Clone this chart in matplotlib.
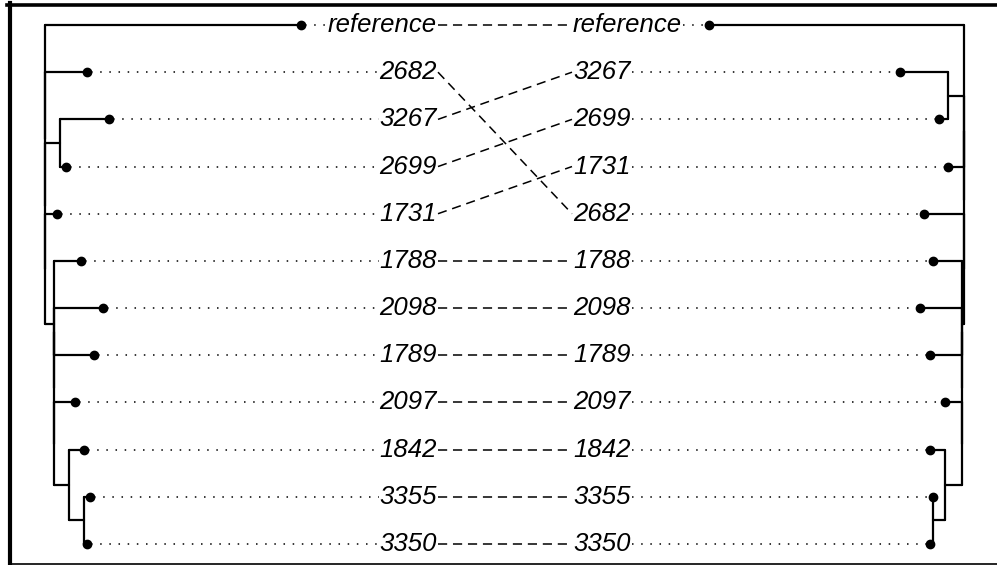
import matplotlib
matplotlib.use("Agg")
import matplotlib.pyplot as plt
from matplotlib.lines import Line2D

# ---------------- data ----------------
# Left and right trees (Newick, branch lengths in substitution units)
left_tree = ("(reference:0.256,(2682:0.042,((3267:0.049,2699:0.006):0.015,"
             "(1731:0.0115,(1788:0.0265,((2098:0.0487,1789:0.0397):0,"
             "(2097:0.0207,(1842:0.0147,(3355:0.0054,3350:0.0027):0.0153):0.015):0):0)"
             ":0.009):0):0):0);")
right_tree = ("(reference:0.255,(((3267:0.0484,2699:0.0094):0.0156,1731:0.0156):0,"
              "(2682:0.0403,(1788:0.0287,((2098:0.042,1789:0.032):0,"
              "(2097:0.0167,(1842:0.0153,(3355:0.0005,3350:0.0033):0.012):0.0167):0):0)"
              ":0.0023):0):0);")


def parse_newick(s):
    s = s.strip().rstrip(";")
    pos = 0

    def node():
        nonlocal pos
        children = []
        if s[pos] == "(":
            pos += 1
            while True:
                children.append(node())
                if s[pos] == ",":
                    pos += 1
                    continue
                if s[pos] == ")":
                    pos += 1
                    break
        start = pos
        while pos < len(s) and s[pos] not in ",():":
            pos += 1
        name = s[start:pos]
        bl = 0.0
        if pos < len(s) and s[pos] == ":":
            pos += 1
            start = pos
            while pos < len(s) and s[pos] not in ",()":
                pos += 1
            bl = float(s[start:pos])
        return {"name": name, "bl": bl, "children": children}

    return node()


def layout(tree):
    leaves = []
    segs = []  # (x0, y0, x1, y1)

    def walk(n, depth):
        d = depth + n["bl"]
        n["depth"] = d
        if not n["children"]:
            n["y"] = len(leaves)
            leaves.append(n)
            return
        for c in n["children"]:
            walk(c, d)
        n["y"] = (n["children"][0]["y"] + n["children"][-1]["y"]) / 2.0

    walk(tree, 0.0)

    def edges(n):
        if n["children"]:
            segs.append((n["depth"], n["children"][0]["y"], n["depth"], n["children"][-1]["y"]))
            for c in n["children"]:
                segs.append((n["depth"], c["y"], c["depth"], c["y"]))
                edges(c)

    edges(tree)
    return leaves, segs


L = parse_newick(left_tree)
R = parse_newick(right_tree)
left_leaves, left_segs = layout(L)
right_leaves, right_segs = layout(R)

# ---------------- drawing ----------------
W, H, DPI = 997, 565, 100
fig = plt.figure(figsize=(W / DPI, H / DPI), dpi=DPI)
ax = fig.add_axes([0, 0, 1, 1])
ax.set_xlim(0, W)
row0, rowstep = 25, 47.18
ax.set_ylim((H - row0) / rowstep, -row0 / rowstep)
ax.axis("off")

scale = 1000.0
left_root, right_root = 45, 964
label_left_end, label_right_start = 437, 573
lw_tree = 1.6

def lx(d):
    return left_root + d * scale

def rx(d):
    return right_root - d * scale

for x0, y0, x1, y1 in left_segs:
    ax.plot([lx(x0), lx(x1)], [y0, y1], color="black", lw=lw_tree,
            solid_capstyle="round", zorder=3)
for x0, y0, x1, y1 in right_segs:
    ax.plot([rx(x0), rx(x1)], [y0, y1], color="black", lw=lw_tree,
            solid_capstyle="round", zorder=3)

font = dict(family=["Liberation Sans", "DejaVu Sans"], style="italic", size=18.5)
left_texts = {}
right_texts = {}
for lf in left_leaves:
    ax.plot(lx(lf["depth"]), lf["y"], "o", color="black", ms=6, zorder=4)
    left_texts[lf["name"]] = ax.text(label_left_end, lf["y"], lf["name"], ha="right",
                                     va="center", **font)
for lf in right_leaves:
    ax.plot(rx(lf["depth"]), lf["y"], "o", color="black", ms=6, zorder=4)
    right_texts[lf["name"]] = ax.text(label_right_start, lf["y"], lf["name"], ha="left",
                                      va="center", **font)

fig.canvas.draw()
inv = ax.transData.inverted()
renderer = fig.canvas.get_renderer()

def ext(t):
    bb = t.get_window_extent(renderer)
    x0 = inv.transform((bb.x0, bb.y0))[0]
    x1 = inv.transform((bb.x1, bb.y0))[0]
    return x0, x1

dotted = (0, (1, 5))
dashed = (0, (6, 3.8))
for lf in left_leaves:
    x0, x1 = ext(left_texts[lf["name"]])
    ax.plot([lx(lf["depth"]) + 4, x0 - 1], [lf["y"], lf["y"]], color="black",
            lw=1.1, linestyle=dotted, zorder=2)
for lf in right_leaves:
    x0, x1 = ext(right_texts[lf["name"]])
    ax.plot([x1 + 1, rx(lf["depth"]) - 4], [lf["y"], lf["y"]], color="black",
            lw=1.1, linestyle=dotted, zorder=2)

right_rows = {lf["name"]: lf["y"] for lf in right_leaves}
for lf in left_leaves:
    name = lf["name"]
    _, lx1 = ext(left_texts[name])
    rx0, _ = ext(right_texts[name])
    ax.plot([lx1 + 1, rx0 - 1], [lf["y"], right_rows[name]], color="black",
            lw=1.1, linestyle=dashed, zorder=2)

# frame around the figure
def fx(p):
    return p / W

def fy(p):
    return 1 - p / H

fig.add_artist(Line2D([fx(7), fx(W)], [fy(4.5), fy(4.5)], color="black", lw=2.6,
                      transform=fig.transFigure))
fig.add_artist(Line2D([fx(9.5), fx(9.5)], [fy(3), fy(H)], color="black", lw=3,
                      transform=fig.transFigure))
fig.add_artist(Line2D([fx(9), fx(W)], [fy(563.5), fy(563.5)], color="black", lw=1.2,
                      transform=fig.transFigure))

fig.savefig("out.png", dpi=DPI)
